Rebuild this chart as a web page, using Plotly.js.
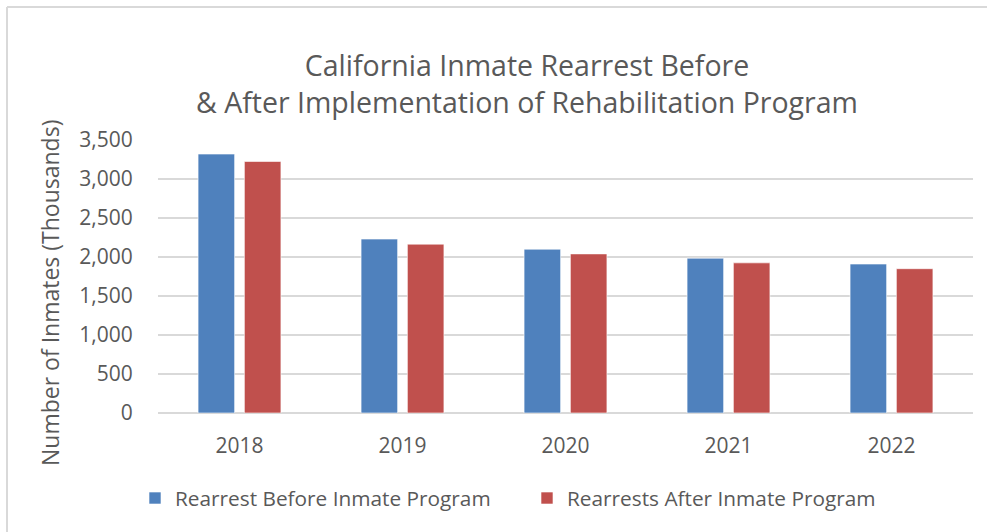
<!DOCTYPE html>
<html>
<head>
<meta charset="utf-8">
<script src="https://cdn.plot.ly/plotly-3.0.1.min.js"></script>
<style>
  html, body { margin: 0; padding: 0; background: #fff; }
  #chart { width: 987px; height: 532px; }
</style>
</head>
<body>
<div id="chart"></div>
<script>
// values (thousands)
var years = ["2018", "2019", "2020", "2021", "2022"];
var beforeProgram = [3320, 2230, 2100, 1985, 1910];
var afterProgram = [3225, 2165, 2040, 1925, 1850];
var yTicks = [0, 500, 1000, 1500, 2000, 2500, 3000, 3500];

var FONT = "Open Sans, sans-serif";
var GREY = "#595959";

var traces = [
    {
        name: "Rearrest Before Inmate Program",
        x: years,
        y: beforeProgram,
        type: "bar",
        marker: { color: "#4f81bd", line: { color: "rgba(255,255,255,0.6)", width: 1 } },
        hoverinfo: "y"
    },
    {
        name: "Rearrests After Inmate Program",
        x: years,
        y: afterProgram,
        type: "bar",
        marker: { color: "#c0504d", line: { color: "rgba(255,255,255,0.6)", width: 1 } },
        hoverinfo: "y"
    }
];

// chart frame (only top and left edges are inside the picture)
var frameX = (7 - 158) / 815;
var frameTop = (413 - 7) / 273;
var frameBottom = (413 - 540) / 273;

var layout = {
    width: 987,
    height: 532,
    paper_bgcolor: "#ffffff",
    plot_bgcolor: "#ffffff",
    font: { family: FONT, size: 21, color: GREY },
    margin: { l: 158, r: 14, t: 140, b: 119, autoexpand: false },
    barmode: "group",
    bargap: 0.432,
    bargroupgap: 0.21,
    title: {
        text: "California Inmate Rearrest Before<br>& After Implementation of Rehabilitation Program",
        font: { family: FONT, size: 28.5, color: GREY },
        x: 527 / 987,
        xanchor: "center",
        y: 1 - 76 / 532,
        yanchor: "top"
    },
    xaxis: {
        type: "category",
        showgrid: false,
        zeroline: false,
        showline: false,
        ticks: "outside",
        ticklen: 14,
        tickcolor: "rgba(0,0,0,0)",
        tickfont: { family: FONT, size: 21, color: GREY }
    },
    yaxis: {
        range: [0, 3500],
        tickvals: yTicks,
        tickformat: ",d",
        showgrid: true,
        gridcolor: "#d9d9d9",
        gridwidth: 1.5,
        zeroline: true,
        zerolinecolor: "#d9d9d9",
        zerolinewidth: 1.5,
        showline: false,
        ticks: "outside",
        ticklen: 20,
        tickcolor: "rgba(0,0,0,0)",
        tickfont: { family: FONT, size: 21, color: GREY }
    },
    // axis title sits a bit below the plot centre in the reference
    annotations: [
        {
            text: "Number of Inmates (Thousands)",
            xref: "paper", yref: "paper",
            x: (50 - 158) / 815, y: (413 - 293) / 273,
            xanchor: "center", yanchor: "middle",
            textangle: -90,
            showarrow: false,
            font: { family: FONT, size: 23, color: GREY }
        }
    ],
    showlegend: true,
    legend: {
        orientation: "h",
        x: (135 - 158) / 815,
        xanchor: "left",
        y: (413 - 478) / 273,
        yanchor: "top",
        font: { family: FONT, size: 20.8, color: GREY },
        itemwidth: 30,
        entrywidth: 347,
        entrywidthmode: "pixels",
        traceorder: "normal"
    },
    shapes: [
        { type: "line", xref: "paper", yref: "paper", x0: frameX, x1: 1.1, y0: frameTop, y1: frameTop,
          line: { color: "#d9d9d9", width: 2 } },
        { type: "line", xref: "paper", yref: "paper", x0: frameX, x1: frameX, y0: frameTop, y1: frameBottom,
          line: { color: "#d9d9d9", width: 2 } }
    ]
};

Plotly.newPlot("chart", traces, layout, { responsive: false, displayModeBar: false, staticPlot: true });
</script>
</body>
</html>
